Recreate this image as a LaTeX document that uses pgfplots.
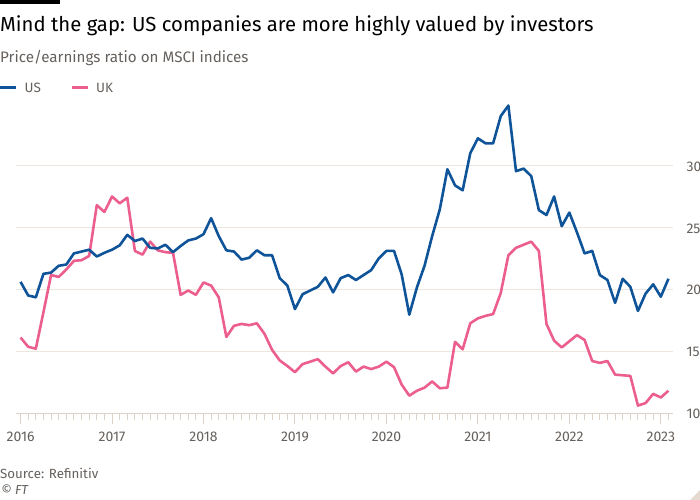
\documentclass[border=0pt]{standalone}
\usepackage{pgfplots}
\pgfplotsset{compat=1.18}
\usepackage{pgfplotstable}
\usepackage{fontspec}
\setmainfont{Fira Sans}
\definecolor{usblue}{HTML}{0F5499}
\definecolor{ukpink}{HTML}{EB5E8D}
\definecolor{txtgrey}{HTML}{66605C}
\definecolor{gridc}{HTML}{EDE6DF}
\definecolor{axisc}{HTML}{DCD2C8}
\definecolor{cornerc}{HTML}{E6D9CE}

\pgfplotstableread{
m us uk
0 20.6 16.1
1 19.5 15.35
2 19.35 15.2
3 21.25 18.15
4 21.35 21.15
5 21.9 21.0
6 22.0 21.6
7 22.9 22.3
8 23.05 22.35
9 23.2 22.7
10 22.65 26.8
11 22.95 26.25
12 23.2 27.5
13 23.55 26.95
14 24.4 27.4
15 23.9 23.1
16 24.1 22.8
17 23.35 23.85
18 23.3 23.15
19 23.6 23.0
20 23.0 22.95
21 23.5 19.55
22 23.95 19.9
23 24.1 19.55
24 24.45 20.55
25 25.75 20.3
26 24.3 19.35
27 23.15 16.15
28 23.05 17.05
29 22.4 17.2
30 22.55 17.1
31 23.15 17.25
32 22.75 16.4
33 22.75 15.1
34 20.9 14.25
35 20.3 13.8
36 18.4 13.3
37 19.6 13.95
38 19.9 14.15
39 20.2 14.35
40 20.95 13.75
41 19.75 13.2
42 20.9 13.8
43 21.15 14.1
44 20.75 13.35
45 21.15 13.75
46 21.55 13.55
47 22.5 13.75
48 23.1 14.15
49 23.1 13.7
50 21.2 12.3
51 17.95 11.4
52 20.15 11.8
53 21.9 12.05
54 24.3 12.55
55 26.45 12.0
56 29.7 12.05
57 28.4 15.75
58 28.0 15.15
59 31.0 17.25
60 32.2 17.65
61 31.8 17.85
62 31.8 18.0
63 34.0 19.7
64 34.85 22.75
65 29.55 23.35
66 29.75 23.6
67 29.15 23.85
68 26.4 23.1
69 26.0 17.2
70 27.5 15.85
71 25.1 15.3
72 26.2 15.8
73 24.6 16.3
74 22.9 15.9
75 23.1 14.2
76 21.15 14.05
77 20.75 14.2
78 18.9 13.1
79 20.85 13.05
80 20.2 13.0
81 18.25 10.6
82 19.65 10.8
83 20.4 11.55
84 19.4 11.25
85 20.85 11.8
}\datatable

\begin{document}
\begin{tikzpicture}
\useasboundingbox (0bp,0bp) rectangle (700bp,-500bp);
\fill[black] (0bp,0bp) rectangle (60bp,-4bp);
\node[anchor=base west, inner sep=0pt, font=\fontsize{20.3bp}{24bp}\selectfont, text=black] at (0bp,-31.5bp) {Mind the gap: US companies are more highly valued by investors};
\node[anchor=base west, inner sep=0pt, font=\fontsize{15.2bp}{18bp}\selectfont, text=txtgrey] at (0bp,-62bp) {Price/earnings ratio on MSCI indices};
\draw[usblue, line width=2.6bp] (0bp,-87.5bp) -- (16bp,-87.5bp);
\node[anchor=base west, inner sep=0pt, font=\fontsize{13.5bp}{16bp}\selectfont, text=txtgrey] at (24.5bp,-92.5bp) {US};
\draw[ukpink, line width=2.6bp] (72bp,-87.5bp) -- (88bp,-87.5bp);
\node[anchor=base west, inner sep=0pt, font=\fontsize{13.5bp}{16bp}\selectfont, text=txtgrey] at (96bp,-92.5bp) {UK};
\node[anchor=base west, inner sep=0pt, font=\fontsize{13.3bp}{15bp}\selectfont, text=txtgrey] at (0bp,-478bp) {Source: Refinitiv};
\node[anchor=base west, inner sep=0pt, font=\fontsize{13bp}{15bp}\selectfont\itshape, text=txtgrey] at (1bp,-494.5bp) {© FT};
\fill[cornerc] (700bp,-500bp) -- (700bp,-490bp) -- (690bp,-500bp) -- cycle;
\begin{axis}[
  at={(16bp,-413bp)}, anchor=south west,
  scale only axis, width=657bp, height=313bp,
  xmin=-0.6, xmax=85.6, ymin=10, ymax=35.3,
  axis x line*=bottom, axis y line*=right,
  y axis line style={draw=none},
  x axis line style={draw=axisc, line width=1bp, -},
  xtick={0,12,...,84},
  xticklabels={2016,2017,2018,2019,2020,2021,2022,2023},
  minor xtick={0,1,...,85},
  tick align=outside,
  major tick length=11bp, minor tick length=6.5bp,
  xtick style={draw=axisc, line width=1bp},
  ytick={10,15,20,25,30},
  ytick style={draw=none},
  ymajorgrids, grid style={draw=gridc, line width=1bp},
  /pgf/number format/assume math mode=true,
  xticklabel style={font=\fontsize{14bp}{16bp}\selectfont, text=txtgrey, yshift=-4bp},
  yticklabel style={font=\fontsize{14bp}{16bp}\selectfont, text=txtgrey, anchor=west, xshift=-1bp, yshift=-1bp},
  clip=false,
]
\addplot[ukpink, line width=2.6bp, line join=round] table[x=m, y=uk] {\datatable};
\addplot[usblue, line width=2.6bp, line join=round] table[x=m, y=us] {\datatable};
\end{axis}
\end{tikzpicture}
\end{document}
